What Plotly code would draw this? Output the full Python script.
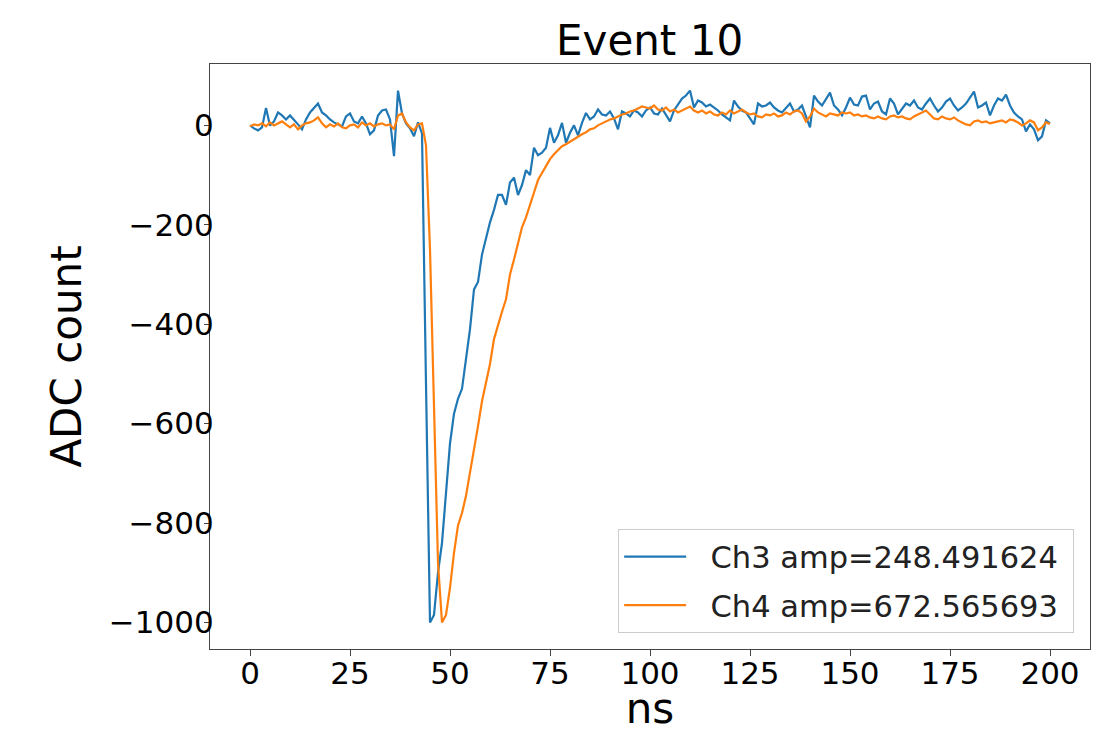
import plotly.graph_objects as go

# sample times in ns (1 ns steps)
time_ns = list(range(0, 201))

ch3_adc = [
    0, -6, -10, -4, 35, 0, 8, 26, 20, 12,
    20, 12, 2, -8, 12, 26, 36, 44, 26, 20,
    12, 6, 2, -2, 18, 24, 8, 4, 18, 4,
    -18, -10, 20, 30, 32, 12, -62, 70, 24, 4,
    -6, -22, 6, -16, -520, -1000, -985, -900, -840, -740,
    -640, -580, -550, -530, -465, -410, -330, -315, -260, -225,
    -195, -170, -140, -140, -160, -115, -105, -140, -120, -90,
    -100, -45, -60, -55, -45, -5, -35, -20, 5, -35,
    -15, 0, -20, 5, 25, 12, 18, 32, 22, 20,
    28, 14, -8, 28, 24, 18, 30, 26, 18, 30,
    36, 24, 22, 34, 20, 8, 30, 42, 54, 60,
    70, 36, 50, 46, 38, 42, 36, 30, 22, 16,
    10, 50, 38, 30, 26, 14, 2, 44, 38, 40,
    46, 36, 30, 26, 36, 44, 28, 32, 40, 20,
    -4, 60, 48, 40, 52, 66, 40, 32, 20, 36,
    56, 42, 40, 58, 60, 32, 44, 48, 28, 22,
    54, 44, 22, 34, 44, 40, 50, 36, 32, 44,
    54, 40, 28, 36, 48, 54, 40, 30, 36, 44,
    56, 68, 36, 40, 46, 20, 40, 54, 50, 62,
    40, 26, 18, 12, -12, 2, -8, -30, -22, 10,
    4,
]

ch4_adc = [
    -2, 2, 0, 4, -2, 6, 0, 4, 8, 2,
    -4, 2, -8, 0, 4, 6, 10, 16, 4, -4,
    2, -2, 4, -4, -6, 0, 2, -4, 6, 0,
    4, -2, 2, 4, 0, 2, -8, 20, 24, 6,
    -4, -10, 2, 4, -40, -250, -560, -880, -1000, -985,
    -930, -860, -805, -780, -745, -700, -650, -605, -555, -520,
    -480, -430, -400, -375, -350, -300, -270, -240, -205, -185,
    -158, -135, -110, -95, -80, -68, -58, -50, -42, -38,
    -33, -28, -22, -18, -14, -8, -6, 0, 4, 8,
    12, 14, 18, 22, 24, 28, 30, 34, 38, 36,
    34, 40, 32, 30, 36, 28, 32, 26, 30, 34,
    38, 30, 26, 30, 24, 28, 22, 20, 26, 22,
    30, 24, 28, 32, 26, 22, 24, 18, 16, 22,
    20, 24, 18, 20, 26, 22, 28, 30, 24, 8,
    18, 34, 26, 22, 18, 24, 22, 20, 26, 24,
    26, 20, 22, 18, 20, 16, 14, 18, 14, 12,
    18, 20, 16, 18, 14, 12, 18, 22, 26, 30,
    22, 14, 12, 18, 14, 12, 16, 10, 6, 2,
    0, 8, 10, 6, 8, 4, 6, 8, 10, 6,
    12, 10, 6, 0, 4, 10, 6, -10, -4, 6,
    3,
]

series_names = ["Ch3 amp=248.491624", "Ch4 amp=672.565693"]
x_ticks = [0, 25, 50, 75, 100, 125, 150, 175, 200]
y_ticks = [-1000, -800, -600, -400, -200, 0]

FONT = "DejaVu Sans"
GAP = "\u00a0\u00a0"
TAIL = "\u00a0"

fig = go.Figure()
fig.add_trace(go.Scatter(x=time_ns, y=ch3_adc, mode="lines", name=GAP + series_names[0] + TAIL,
                         legendgroup="a", line=dict(color="#1f77b4", width=2.2)))
fig.add_trace(go.Scatter(x=time_ns, y=ch4_adc, mode="lines", name=GAP + series_names[1] + TAIL,
                         legendgroup="b", line=dict(color="#ff7f0e", width=2.2)))

axis_common = dict(showgrid=False, zeroline=False, showline=True, mirror=True,
                   linecolor="#444444", linewidth=1.3, ticks="outside",
                   tickwidth=1.3, tickcolor="#444444", automargin=False,
                   tickfont=dict(family=FONT, size=31, color="black"))

fig.update_layout(
    width=1118, height=733,
    margin=dict(l=210, r=28, t=64, b=84),
    paper_bgcolor="white", plot_bgcolor="white",
    title=dict(text="Event 10", x=0.581, xanchor="center", y=0.945, yanchor="middle",
               yref="container", font=dict(family=FONT, size=42, color="black")),
    xaxis=dict(range=[-10, 210], tickvals=x_ticks, ticklabelstandoff=-9, ticklen=6,
               title=dict(text="ns", font=dict(family=FONT, size=42, color="black"), standoff=16),
               **axis_common),
    yaxis=dict(range=[-1053.5, 123.5], tickvals=y_ticks, ticklabelstandoff=-16, ticklen=5,
               title=dict(text="ADC count", font=dict(family=FONT, size=42, color="black"), standoff=14),
               **axis_common),
    legend=dict(x=0.982, xanchor="right", y=0.027, yanchor="bottom",
                bgcolor="white", bordercolor="#cccccc", borderwidth=1,
                tracegroupgap=6,
                font=dict(family=FONT, size=30.5, color="#222222"), itemwidth=62),
    showlegend=True,
)

fig.write_html("out.html")
